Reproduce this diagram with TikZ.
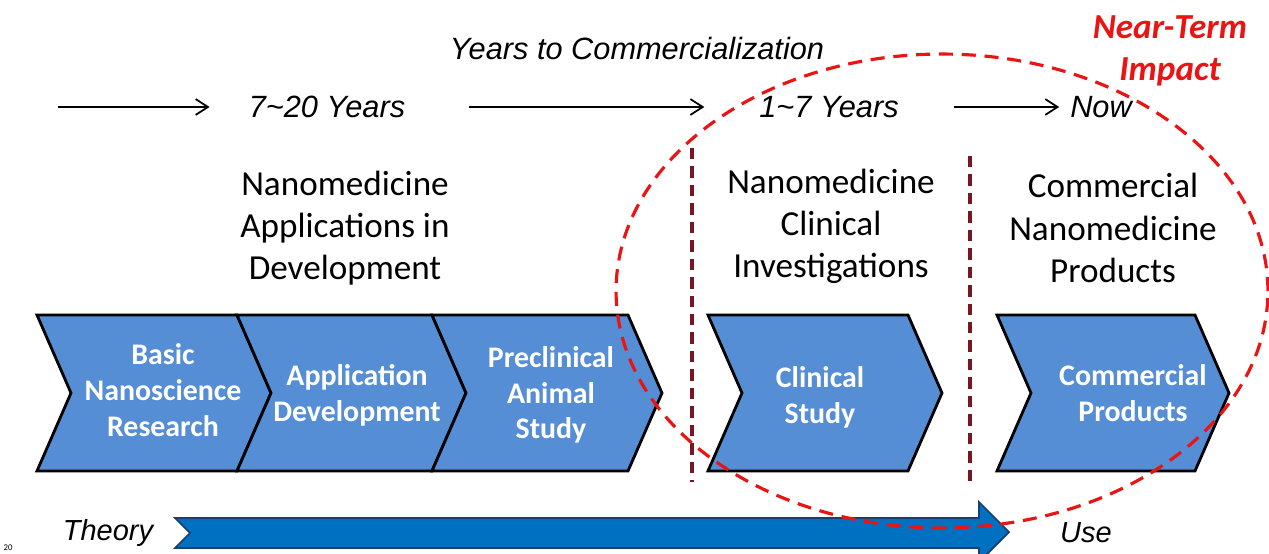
\documentclass[tikz,border=0pt]{standalone}
\usepackage{fontspec}
\setmainfont{Carlito}
\newfontfamily\arialfont{Liberation Sans}
\usetikzlibrary{arrows.meta}

\definecolor{chevblue}{RGB}{85,142,213}
\definecolor{flowblue}{RGB}{0,112,192}
\definecolor{flowedge}{RGB}{24,64,110}
\definecolor{phasered}{RGB}{120,22,36}
\definecolor{ringred}{RGB}{235,20,20}

\begin{document}
\begin{tikzpicture}[
            x=0.02cm,
            y=-0.02cm,
            semithick
        ]

        \tikzstyle{chevron}=[
            draw=black,
            line width=1.6pt,
            fill=chevblue,
            line join=miter
        ]
        \tikzstyle{chevtext}=[text=white, align=center, font=\fontsize{17}{20.4}\selectfont\bfseries]
        \tikzstyle{heading}=[align=center, font=\fontsize{20}{24}\selectfont]
        \tikzstyle{timeline}=[inner sep=0pt, font=\arialfont\itshape\fontsize{17.5}{21}\selectfont]
        \tikzstyle{timearrow}=[-{Straight Barb[length=7pt, width=9pt]}, line width=1pt]
        \tikzstyle{phaseline}=[draw=phasered, line width=2pt, dash pattern=on 6.5pt off 4pt]
        \tikzstyle{ring}=[draw=ringred, line width=1.8pt, dash pattern=on 8pt off 5pt]

        \path[use as bounding box, fill=white] (0,0) rectangle (1269,554);
        \clip (0,0) rectangle (1269,554);

        % Years to commercialization
        \node[timeline] (title) at (637,49) {Years to Commercialization};
        \coordinate (start) at (58,107);
        \node[timeline] (yrs20) at (327,107) {7\textasciitilde20 Years};
        \node[timeline] (yrs7) at (829,107) {1\textasciitilde7 Years};
        \node[timeline] (now) at (1101,107) {Now};
        \draw[timearrow, shorten >=22pt] (start) -- (yrs20.west);
        \draw[timearrow, shorten <=36pt, shorten >=31pt] (yrs20.east) -- (yrs7.west);
        \draw[timearrow, shorten <=31pt, shorten >=6pt] (yrs7.east) -- (now.west);

        % Stages
        \node[heading] (devhead) at (345,228) {Nanomedicine\\Applications in\\Development};
        \node[heading] (clinhead) at (831,226) {Nanomedicine\\Clinical\\Investigations};
        \node[heading] (prodhead) at (1113,228) {Commercial\\Nanomedicine\\Products};

        \foreach \x/\w in {37/200, 237/195, 432/196, 708/200, 997/198}
            \draw[chevron] (\x,315) -- ++(\w,0) -- ++(34,78) -- ++(-34,78)
                -- ++(-\w,0) -- ++(34,-78) -- cycle;

        \node[chevtext] (basic) at (163,390) {Basic\\Nanoscience\\Research};
        \node[chevtext] (appdev) at (357,395) {Application\\Development};
        \node[chevtext] (preclin) at (551,395) {Preclinical\\Animal\\Study};
        \node[chevtext] (clinical) at (820,397) {Clinical\\Study};
        \node[chevtext] (commercial) at (1133,393) {Commercial\\Products};

        \draw[phaseline] (692,148) -- (692,482);
        \draw[phaseline] (970,156) -- (970,482);

        % Theory to use
        \node[timeline, font=\arialfont\itshape\fontsize{16.5}{20}\selectfont] (theory) at (108,533) {Theory};
        \node[timeline, font=\arialfont\itshape\fontsize{16.5}{20}\selectfont] (use) at (1086,533) {Use};
        \draw[fill=flowblue, draw=flowedge, line width=1pt, line join=miter]
            (175,518) -- (979,518) -- (979,502) -- (1009,532) -- (979,562)
            -- (979,548) -- (175,548) -- (190,533) -- cycle;

        % Near-term impact
        \draw[ring] (942,291) ellipse [x radius=6.52cm, y radius=4.74cm];
        \node[text=ringred, align=center, font=\fontsize{20}{24}\selectfont\bfseries\itshape] (nearterm) at (1170,51) {Near-Term\\Impact};

        \node[font=\fontsize{5}{6}\selectfont, inner sep=0pt] (ref) at (8,548) {20};

    \end{tikzpicture}
\end{document}
